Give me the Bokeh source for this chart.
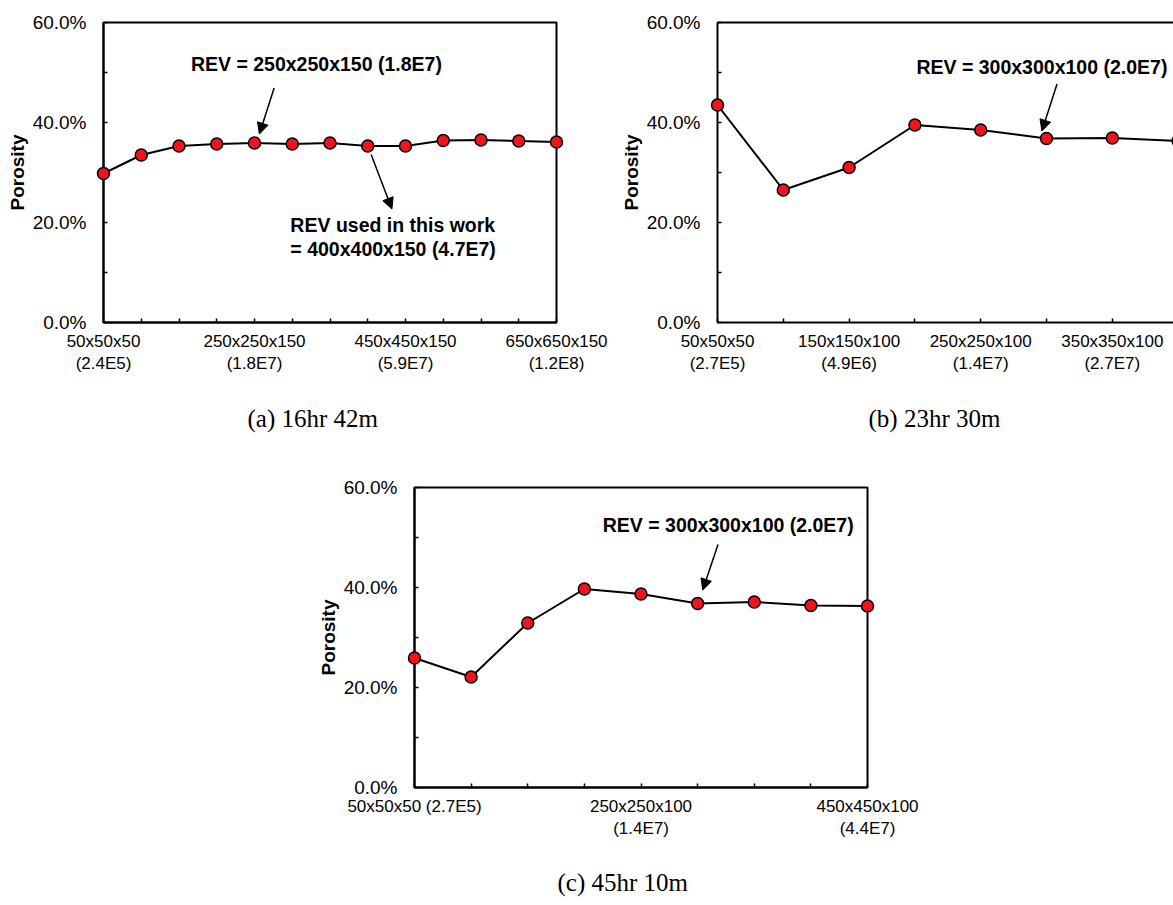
from bokeh.plotting import figure
from bokeh.models import (FixedTicker, NumeralTickFormatter, Label, Arrow, NormalHead,
                          LinearAxis, Range1d, Spacer, Title)
from bokeh.layouts import column, row
from bokeh.embed import file_html
from bokeh.resources import INLINE

# ---------------- data ----------------
# (a) 16hr 42m : sub-volumes 50 ... 650 (step 50)
a_index = list(range(13))
a_porosity = [0.298, 0.335, 0.353, 0.357, 0.359, 0.357, 0.359, 0.353, 0.353, 0.364, 0.365, 0.363, 0.361]
a_tick_labels = {0: "50x50x50\n(2.4E5)", 4: "250x250x150\n(1.8E7)",
                 8: "450x450x150\n(5.9E7)", 12: "650x650x150\n(1.2E8)"}
a_caption = "(a) 16hr 42m"
a_note1 = "REV = 250x250x150 (1.8E7)"
a_note2_l1 = "REV used in this work"
a_note2_l2 = "= 400x400x150 (4.7E7)"

# (b) 23hr 30m (cropped at the right edge)
b_index = list(range(8))
b_porosity = [0.435, 0.265, 0.310, 0.395, 0.385, 0.368, 0.369, 0.363]
b_tick_labels = {0: "50x50x50\n(2.7E5)", 2: "150x150x100\n(4.9E6)",
                 4: "250x250x100\n(1.4E7)", 6: "350x350x100\n(2.7E7)"}
b_caption = "(b) 23hr 30m"
b_note = "REV = 300x300x100 (2.0E7)"

# (c) 45hr 10m
c_index = list(range(9))
c_porosity = [0.259, 0.221, 0.329, 0.397, 0.387, 0.368, 0.371, 0.364, 0.363]
c_tick_labels = {0: "50x50x50 (2.7E5)", 4: "250x250x100\n(1.4E7)", 8: "450x450x100\n(4.4E7)"}
c_caption = "(c) 45hr 10m"
c_note = "REV = 300x300x100 (2.0E7)"

y_major = [0.0, 0.2, 0.4, 0.6]
y_minor = [0.1, 0.3, 0.5]

SANS = "Liberation Sans"
SERIF = "Liberation Serif"
RED = "#f0141c"


def make_panel(x, y, labels, n_ticks, x_end, frame_width, left, right, top, bottom,
               outline=True):
    p = figure(frame_width=frame_width, frame_height=300,
               min_border_left=left, min_border_right=right,
               min_border_top=top, min_border_bottom=bottom,
               x_range=Range1d(0, x_end), y_range=Range1d(0, 0.6),
               output_backend="svg", toolbar_location=None,
               background_fill_color="white", border_fill_color="white")
    p.grid.visible = False
    xa = p.below[0]
    ya = p.left[0]
    if outline:
        p.outline_line_color = "black"
        p.outline_line_width = 2
        p.outline_line_alpha = 1
    else:
        p.outline_line_color = None
        top_axis = LinearAxis(ticker=FixedTicker(ticks=[]), axis_line_width=2,
                              axis_line_color="black",
                              major_label_text_font_size="0px",
                              major_tick_line_color=None, minor_tick_line_color=None,
                              major_tick_in=0, major_tick_out=0, major_label_standoff=0)
        p.add_layout(top_axis, "above")

    p.line(x, y, line_color="black", line_width=2)
    p.scatter(x, y, size=12, fill_color=RED, line_color="black", line_width=1.5,
              level="overlay")

    xa.ticker = FixedTicker(ticks=list(range(n_ticks)), minor_ticks=[])
    xa.major_label_overrides = {i: labels.get(i, "") for i in range(n_ticks)}
    xa.axis_line_width = 2
    xa.axis_line_color = "black"
    xa.major_tick_in = 4
    xa.major_tick_out = 0
    xa.major_tick_line_width = 1.5
    xa.major_tick_line_color = "black"
    xa.major_label_text_font = SANS
    xa.major_label_text_font_size = "17px"
    xa.major_label_text_color = "black"
    xa.major_label_standoff = 9

    ya.ticker = FixedTicker(ticks=y_major, minor_ticks=y_minor)
    ya.formatter = NumeralTickFormatter(format="0.0%")
    ya.axis_line_width = 2
    ya.axis_line_color = "black"
    ya.major_tick_in = 4
    ya.major_tick_out = 0
    ya.minor_tick_in = 4
    ya.minor_tick_out = 0
    ya.major_tick_line_width = 1.5
    ya.minor_tick_line_width = 1.5
    ya.major_tick_line_color = "black"
    ya.minor_tick_line_color = "black"
    ya.major_label_text_font = SANS
    ya.major_label_text_font_size = "19px"
    ya.major_label_text_color = "black"
    ya.major_label_standoff = 17
    ya.axis_label = "Porosity"
    ya.axis_label_text_font = SANS
    ya.axis_label_text_font_style = "bold"
    ya.axis_label_text_font_size = "19px"
    ya.axis_label_text_color = "black"
    ya.axis_label_standoff = 2
    return p


def note(p, x, y, text, align="center"):
    p.add_layout(Label(x=x, y=y, text=text, text_font=SANS, text_font_style="bold",
                       text_font_size="19.5px", text_color="black",
                       text_align=align, text_baseline="middle"))


def caption(p, text, offset, standoff):
    p.add_layout(Title(text=text, text_font=SERIF, text_font_style="normal",
                       text_font_size="25px", text_color="black",
                       align="left", offset=offset, standoff=standoff), "below")


def arrow(p, x0, y0, x1, y1):
    p.add_layout(Arrow(end=NormalHead(size=11, fill_color="black", line_color="black",
                                      line_width=1),
                       x_start=x0, y_start=y0, x_end=x1, y_end=y1,
                       line_color="black", line_width=1.5))


fa = make_panel(a_index, a_porosity, a_tick_labels, 13, 12,
                frame_width=453, left=103, right=61, top=22, bottom=138)
note(fa, 5.64, 0.517, a_note1)
arrow(fa, 4.52, 0.469, 4.13, 0.377)
note(fa, 4.95, 0.196, a_note2_l1, align="left")
note(fa, 4.95, 0.147, a_note2_l2, align="left")
arrow(fa, 7.09, 0.336, 7.64, 0.227)
caption(fa, a_caption, 144, 53)

fb = make_panel(b_index, b_porosity, b_tick_labels, 8, 6.93,
                frame_width=456, left=100, right=0, top=22, bottom=138, outline=False)
note(fb, 4.93, 0.512, b_note)
arrow(fb, 5.16, 0.477, 4.93, 0.383)
caption(fb, b_caption, 151, 53)

fc = make_panel(c_index, c_porosity, c_tick_labels, 9, 8,
                frame_width=453, left=100, right=100, top=27, bottom=118)
note(fc, 5.54, 0.525, c_note)
arrow(fc, 5.36, 0.486, 5.09, 0.395)
caption(fc, c_caption, 143, 50)

layout = column(row(fa, fb), row(Spacer(width=314, height=10), fc))

open("out.html", "w").write(file_html(layout, INLINE))
